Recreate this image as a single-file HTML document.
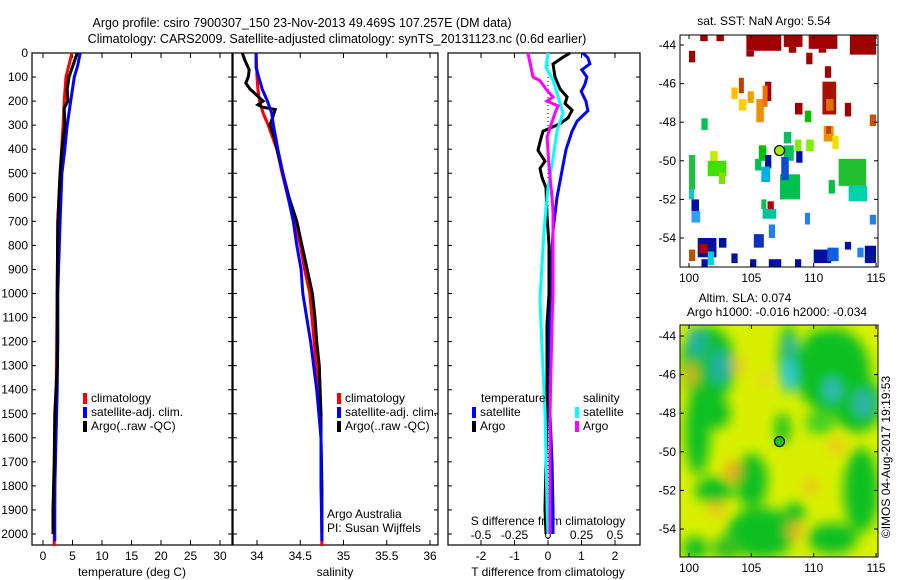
<!DOCTYPE html>
<html><head><meta charset="utf-8"><style>
html,body{margin:0;padding:0;background:#fff;}
svg{display:block;font-family:"Liberation Sans",sans-serif;}
</style></head><body>
<svg id="fig" width="900" height="580" viewBox="0 0 900 580" xmlns="http://www.w3.org/2000/svg">
<defs>
<filter id="blur" x="-20%" y="-20%" width="140%" height="140%"><feGaussianBlur stdDeviation="6"/></filter>
<clipPath id="clipM2"><rect x="680" y="325" width="198" height="232"/></clipPath>
<clipPath id="clipM1"><rect x="680" y="35" width="198" height="232"/></clipPath>
</defs>
<text x="302" y="27" font-size="12.5" text-anchor="middle">Argo profile: csiro 7900307_150 23-Nov-2013 49.469S 107.257E (DM data)</text>
<text x="337" y="43" font-size="12.5" text-anchor="middle">Climatology: CARS2009. Satellite-adjusted climatology: synTS_20131123.nc (0.6d earlier)</text>
<g id="g"></g>
</svg>
<script>
// ---- depth axis ----
const depthTicks = [0,100,200,300,400,500,600,700,800,900,1000,1100,1200,1300,1400,1500,1600,1700,1800,1900,2000];
// ---- temperature panel data ----
const tempTicks = [0,5,10,15,20,25,30];
const climTDepth = [0,100,200,300,500,700,1000,1500,2000,2050];
const climT = [4.9,3.9,3.6,3.4,2.9,2.5,2.4,2.2,1.9,1.9];
const satTDepth = [0,50,100,200,300,400,500,700,1000,1200,1400,1600,1800,2000,2030];
const satT = [6.3,5.9,5.3,4.7,4.1,3.7,3.2,2.9,2.5,2.5,2.4,2.2,2.0,2.0,2.0];
const argoTDepth = [0,100,150,200,230,300,400,500,700,1000,1300,1500,1700,1900,2000];
const argoT = [5.8,4.4,4.1,4.2,3.6,3.7,3.2,2.9,2.5,2.4,2.4,2.0,1.9,1.7,1.7];
// ---- salinity panel data ----
const salTicks = [34,34.5,35,35.5,36];
const argoSDepth = [0,30,70,100,125,150,180,200,215,225,235,280,300,350,400,500,600,700,800,900,1000,1100,1200,1300,1400,1500,1600,1800,2000];
const argoS = [33.83,33.86,33.91,33.90,33.87,33.92,34.01,34.07,34.01,34.06,34.21,34.17,34.15,34.20,34.23,34.30,34.37,34.46,34.52,34.58,34.64,34.67,34.69,34.72,34.73,34.74,34.74,34.75,34.75];
const climSDepth = [0,100,150,200,250,300,400,500,600,700,800,900,1000,1200,1400,1600,2050];
const climS = [33.99,34.00,34.01,34.03,34.07,34.13,34.23,34.29,34.36,34.44,34.50,34.55,34.61,34.66,34.71,34.74,34.75];
const satSDepth = [0,60,100,150,200,250,300,400,500,600,700,800,900,1000,1200,1400,1600,1800,2000,2030];
const satS = [33.99,33.99,34.02,34.06,34.12,34.17,34.19,34.24,34.30,34.36,34.42,34.46,34.51,34.53,34.62,34.69,34.74,34.74,34.75,34.75];
// ---- difference panel data ----
const tDiffTicks = [-2,-1,0,1,2];
const sDiffTicks = [-0.5,-0.25,0,0.25,0.5];
const sDiffLabels = ["-0.5","-0.25","0","0.25","0.5"];
const dTsatDepth = [0,20,45,70,100,130,160,200,240,283,325,400,465,600,740,1020,1300,1500,1700,1900,2000];
const dTsat = [1.04,1.19,1.25,1.01,1.16,1.10,0.99,1.13,1.19,0.87,0.72,0.54,0.45,0.27,0.15,0.06,0.03,0.06,0.12,0.15,0.15];
const dTargoDepth = [0,20,46,100,150,183,210,238,270,294,325,370,405,450,480,518,560,674,800,1000,1130,1500,1900,2000];
const dTargo = [0.66,0.42,0.15,0.21,0.36,0.57,0.51,0.72,0.60,0.36,-0.15,-0.24,-0.30,-0.09,-0.24,-0.18,-0.06,-0.03,0.03,0.03,-0.03,-0.03,-0.09,-0.06];
const dSargoDepth = [0,60,100,115,150,183,200,220,250,311,350,465,600,657,1000,1130,1500,2000];
const dSargo = [-0.15,-0.127,-0.112,-0.06,-0.015,0.037,-0.007,0.075,0.052,0.015,-0.007,0.007,0.03,0.037,0.037,0.03,0.015,0.015];
const dSsatDepth = [0,60,113,180,250,325,465,560,740,1020,1130,1500,1900,2000];
const dSsat = [0,-0.015,0.037,0.075,0.112,0.067,0.03,0,-0.03,-0.06,-0.052,-0.022,-0.007,0];

const NS="http://www.w3.org/2000/svg";
const G=document.getElementById('g');
function el(tag,attrs,parent){const e=document.createElementNS(NS,tag);for(const k in attrs)e.setAttribute(k,attrs[k]);(parent||G).appendChild(e);return e;}
function txt(x,y,s,anchor,size,parent){const t=el('text',{x:x,y:y,'font-size':size||12,'text-anchor':anchor||'start'},parent);t.textContent=s;return t;}

const yTop=53, yBot=545;
const yD=d=>yTop+d*0.2405;
const P1={x0:32,x1:232}, P2={x0:233,x1:438}, P3={x0:448,x1:640};
const xT=v=>43+v*5.9;
const xS=v=>257+(v-34)*86.5;
const xdT=v=>548+v*33.5;
const xdS=v=>548+v*134;

function panel(P,name){
  const r=el('rect',{x:P.x0,y:yTop,width:P.x1-P.x0,height:yBot-yTop,fill:'none',stroke:'#000','stroke-width':1.2});
  
  
  depthTicks.forEach(d=>{
    el('line',{x1:P.x0,x2:P.x0+4,y1:yD(d),y2:yD(d),stroke:'#000'});
    el('line',{x1:P.x1,x2:P.x1-4,y1:yD(d),y2:yD(d),stroke:'#000'});
  });
}
function xticks(P,ticks,fx,labels,ly){
  ticks.forEach((t,i)=>{
    const x=fx(t);
    el('line',{x1:x,x2:x,y1:yTop,y2:yTop+5,stroke:'#000'});
    el('line',{x1:x,x2:x,y1:yBot,y2:yBot-5,stroke:'#000'});
    if(labels){const l=txt(x,ly,labels[i],'middle');
      
      }
  });
}
function line(depths,vals,fx,color,name){
  const pts=depths.map((d,i)=>fx(vals[i]).toFixed(1)+','+yD(d).toFixed(1)).join(' ');
  const p=el('polyline',{points:pts,fill:'none',stroke:color,'stroke-width':3,'stroke-linejoin':'miter'});
  
  
}

// panels
panel(P1,'temperature-panel');panel(P2,'salinity-panel');panel(P3,'difference-panel');
depthTicks.forEach(d=>{const t=txt(28,yD(d)+4,String(d),'end');
  
  });
xticks(P1,tempTicks,xT,tempTicks.map(String),560);
xticks(P2,salTicks,xS,salTicks.map(String),560);
xticks(P3,tDiffTicks,xdT,tDiffTicks.map(String),560);
sDiffTicks.forEach((t,i)=>{const l=txt(xdS(t),539,sDiffLabels[i],'middle');
  
  });

let t;
t=txt(132,576,'temperature (deg C)','middle');
t=txt(335,576,'salinity','middle');
t=txt(548,576,'T difference from climatology','middle');
t=txt(548,525,'S difference from climatology','middle');

// zero line
el('line',{x1:548,x2:548,y1:yTop,y2:yBot,stroke:'#000','stroke-dasharray':'1,3'});

// series
line(climTDepth,climT,xT,'#ff0000','temp-climatology-line');
line(satTDepth,satT,xT,'#0000ff','temp-satellite-line');
line(argoTDepth,argoT,xT,'#000000','temp-argo-line');
line(climSDepth,climS,xS,'#ff0000','sal-climatology-line');
line(argoSDepth,argoS,xS,'#000000','sal-argo-line');
line(satSDepth,satS,xS,'#0000ff','sal-satellite-line');
line(dTsatDepth,dTsat,xdT,'#0000ff','dT-satellite-line');
line(dTargoDepth,dTargo,xdT,'#000000','dT-argo-line');
line(dSsatDepth,dSsat,xdS,'#00ffff','dS-satellite-line');
line(dSargoDepth,dSargo,xdS,'#ff00ff','dS-argo-line');

// legends
function legend(x,y,items,name){
  items.forEach((it,i)=>{
    const r=el('rect',{x:x,y:y+i*14-9,width:4,height:11,fill:it[1]});
    
    
    const l=txt(x+8,y+i*14,it[0]);
    
    
  });
}
const leg=[['climatology','#ff0000'],['satellite-adj. clim.','#0000ff'],['Argo(..raw -QC)','#000000']];
legend(83,402,leg,'temp-legend');
legend(337,402,leg,'sal-legend');
t=txt(481,402,'temperature');
t=txt(583,402,'salinity');
legend(472,416,[['satellite','#0000ff'],['Argo','#000000']],'dT-legend');
legend(575,416,[['satellite','#00ffff'],['Argo','#ff00ff']],'dS-legend');
t=txt(327,518,'Argo Australia');
t=txt(327,532,'PI: Susan Wijffels');

// ---- maps ----
const lonTicks=[100,105,110,115];
const latTicks=[-44,-46,-48,-50,-52,-54];
const mx=lon=>689+(lon-100)*12.47;
function map(y44,top,name,clip){
  const my=lat=>y44+(-44-lat)*19.3;
  return {my:my,top:top,name:name};
}
const M1={my:lat=>45+(-44-lat)*19.3,top:35,bot:267};
const M2={my:lat=>336+(-44-lat)*19.3,top:325,bot:557};

// SST map cells: lon0, lon1, lat0, lat1, colour
const sstCells=[
[100.9,101.5,-43.5,-43.8,'#a00000'],[102.2,102.8,-43.5,-43.8,'#a00000'],[104.6,107.4,-43.5,-44.3,'#a00000'],[104.6,105.2,-44.3,-44.6,'#a00000'],
[107.6,109.1,-43.5,-44.1,'#a00000'],[108.0,108.6,-44.1,-44.4,'#a00000'],[109.6,111.9,-43.5,-44.2,'#a00000'],[110.4,111.0,-44.2,-44.4,'#a00000'],[112.9,115,-43.5,-44.5,'#a00000'],
[100,100.5,-44.3,-44.9,'#a00000'],[109.4,109.9,-44.4,-45.0,'#a00000'],[110.9,111.4,-45.1,-45.7,'#a00000'],[106.1,106.6,-45.9,-46.9,'#a00000'],
[108.5,109.1,-47.0,-47.6,'#a00000'],[110.7,111.8,-45.9,-47.6,'#a81000'],[111.0,111.6,-46.8,-47.4,'#e07000'],[112.5,113.0,-47.0,-47.7,'#a00000'],[114.5,115,-47.6,-48.2,'#d05000'],
[104.0,104.4,-45.7,-46.5,'#c04000'],[103.4,103.9,-46.2,-46.8,'#ffc000'],[104.0,104.6,-46.8,-47.4,'#ffd000'],[104.7,105.2,-46.4,-47.0,'#f0a000'],
[105.4,106.0,-46.8,-48.0,'#f09000'],[105.9,106.3,-46.1,-47.2,'#f07000'],[110.8,111.6,-48.2,-49.0,'#f09000'],[111.0,111.4,-48.2,-48.6,'#c04000'],[111.5,112.0,-48.7,-49.4,'#f0e000'],
[101.0,101.5,-47.8,-48.4,'#00c050'],[107.6,108.2,-48.5,-49.1,'#00c060'],[108.5,109.0,-48.9,-49.5,'#80f000'],[109.4,110.0,-48.9,-49.5,'#80f000'],[109.3,109.8,-47.4,-48.0,'#00c000'],
[105.6,106.2,-49.2,-50.0,'#00c000'],[105.3,105.8,-49.9,-50.5,'#00c050'],[101.7,102.3,-49.5,-50.2,'#c0f000'],[101.5,103.0,-50.0,-50.8,'#40e000'],[102.4,102.9,-50.6,-51.2,'#80e000'],
[100,100.5,-49.7,-51.5,'#20c040'],[100,100.4,-51.5,-52.0,'#00d0c0'],[107.3,108.9,-50.7,-52.0,'#00c050'],[107.6,108.4,-49.2,-50.0,'#00c060'],
[112.0,114.2,-49.9,-51.3,'#20c030'],[112.8,114.3,-51.3,-52.1,'#00d0b0'],[111.2,111.7,-51.0,-51.7,'#00c040'],
[106.1,106.6,-49.7,-50.4,'#0010a0'],[105.8,106.5,-50.3,-51.1,'#00b0e0'],[107.4,108.0,-49.8,-51.0,'#0050d0'],[108.6,109.1,-49.5,-50.1,'#0010a0'],
[106.4,106.9,-53.3,-54.0,'#2080f0'],[109.3,109.7,-52.7,-53.3,'#2080f0'],[114.5,115,-52.8,-53.3,'#2080f0'],[100.2,100.8,-52.0,-52.6,'#0010a0'],[100.2,100.9,-52.6,-53.2,'#30a0ff'],
[105.2,106.0,-53.8,-54.5,'#1030c0'],[100.7,102.2,-54.0,-55.0,'#0010a0'],[101.5,102.0,-54.7,-55.4,'#00d0e0'],[102.4,103.0,-54.0,-54.5,'#0010a0'],
[103.4,103.9,-54.8,-55.3,'#0010a0'],[104.9,105.4,-55.1,-55.6,'#0010a0'],[106.4,107.4,-55.1,-55.6,'#0010a0'],[108.5,109.0,-55.1,-55.6,'#0010a0'],
[110.0,111.4,-54.6,-55.3,'#0010a0'],[111.1,112.0,-54.5,-55.2,'#1060e0'],[112.5,113.0,-54.2,-54.6,'#0010a0'],[113.5,114.0,-54.5,-55.0,'#2080f0'],[114.1,115,-54.4,-55.3,'#0010a0'],
[100.8,101.5,-54.3,-54.8,'#b00000'],[100,100.5,-54.6,-55.2,'#c05000'],[101.0,101.5,-55.1,-55.6,'#0010a0'],[106.3,106.8,-52.1,-52.6,'#b00000'],
[105.9,107.0,-52.5,-53.0,'#00c0a0'],[105.8,106.2,-52.0,-52.5,'#00c050']
];
const mg1=el('g',{'clip-path':'url(#clipM1)'});
sstCells.forEach(c=>{
  const r=el('rect',{x:mx(c[0]),y:M1.my(c[2]),width:mx(c[1])-mx(c[0]),height:M1.my(c[3])-M1.my(c[2]),fill:c[4]},mg1);
  
  
});

// SLA map blobs: lon, lat, rx(deg), ry(deg), colour
const slaBlobs=[
[101.5,-45.5,2.2,2.0,'#10c020'],[100.6,-44.3,0.8,0.8,'#20b0a0'],[102.5,-45.6,0.9,0.9,'#20b0a0'],
[111.5,-45.8,3.0,2.2,'#10c020'],[113.5,-47.5,2.0,1.5,'#10c020'],[108.0,-45.2,0.8,1.8,'#10c020'],[108.0,-46.0,0.6,0.9,'#30c8e0'],[108.1,-44.5,0.5,0.5,'#30b0b0'],
[111.5,-46.8,0.7,0.6,'#30b8c0'],[114.0,-47.5,0.8,0.7,'#30b0b0'],[110.5,-44.3,1.2,0.6,'#10c020'],
[100.7,-49.0,1.0,2.2,'#10c020'],[102.3,-48.0,1.0,0.8,'#10c020'],[105.0,-51.5,1.3,1.4,'#10c020'],[102.0,-52.0,1.5,0.7,'#10c020'],
[105.8,-54.2,2.8,1.3,'#10c020'],[108.5,-53.2,0.8,0.6,'#10c020'],[113.8,-52.0,1.4,2.2,'#10c020'],[111.5,-54.5,2.0,0.8,'#10c020'],
[107.5,-48.8,0.6,0.8,'#10c020'],[110.5,-48.5,1.2,0.6,'#40d020'],[100.5,-55.0,1.0,0.6,'#10c020'],[103.0,-55.0,1.2,0.6,'#30c020'],
[100.2,-46.0,0.4,0.6,'#f0b020'],[103.5,-51.0,0.6,0.5,'#f0a020'],[102.2,-53.0,0.6,0.4,'#f0c020'],[108.5,-54.1,0.6,0.4,'#f0b020'],
[111.8,-49.7,0.6,0.4,'#f0c020'],[104.0,-45.5,0.5,0.4,'#f0c020'],[109.8,-51.8,0.5,0.5,'#f0c020'],[106.0,-46.3,0.4,0.5,'#f0d020']
];
const bg=el('rect',{x:680,y:325,width:198,height:232,fill:'#d8f000'});


const mg2=el('g',{'clip-path':'url(#clipM2)'});
const mg2b=el('g',{filter:'url(#blur)'},mg2);
slaBlobs.forEach(b=>{
  const e=el('ellipse',{cx:mx(b[0]),cy:M2.my(b[1]),rx:b[2]*12.47,ry:b[3]*19.3,fill:b[4]},mg2b);
  
  
});

[[M1,'sst-map'],[M2,'sla-map']].forEach(([M,n],k)=>{
  const r=el('rect',{x:680,y:M.top,width:198,height:M.bot-M.top,fill:'none',stroke:'#000'});
  
  
  lonTicks.forEach(l=>{
    el('line',{x1:mx(l),x2:mx(l),y1:M.bot,y2:M.bot-4,stroke:'#000'});
    el('line',{x1:mx(l),x2:mx(l),y1:M.top,y2:M.top+4,stroke:'#000'});
    const tl=txt(mx(l),M.bot+15,String(l),'middle');
    
    
  });
  latTicks.forEach(l=>{
    el('line',{x1:680,x2:684,y1:M.my(l),y2:M.my(l),stroke:'#000'});
    el('line',{x1:878,x2:874,y1:M.my(l),y2:M.my(l),stroke:'#000'});
    const tl=txt(676,M.my(l)+4,String(l),'end');
    
    
  });
  const c=el('circle',{cx:mx(107.257),cy:M.my(-49.469),r:5,fill:k?'#20c020':'#a0f000',stroke:'#000','stroke-width':1.2});
  
  
});
t=txt(764,25,'sat. SST: NaN Argo: 5.54','middle');
t=txt(745,302,'Altim. SLA: 0.074','middle');
t=txt(777,316,'Argo h1000: -0.016 h2000: -0.034','middle');
t=txt(0,0,'©IMOS 04-Aug-2017 19:19:53','middle');
t.setAttribute('transform','translate(890,457) rotate(-90)');


</script>
</body></html>
